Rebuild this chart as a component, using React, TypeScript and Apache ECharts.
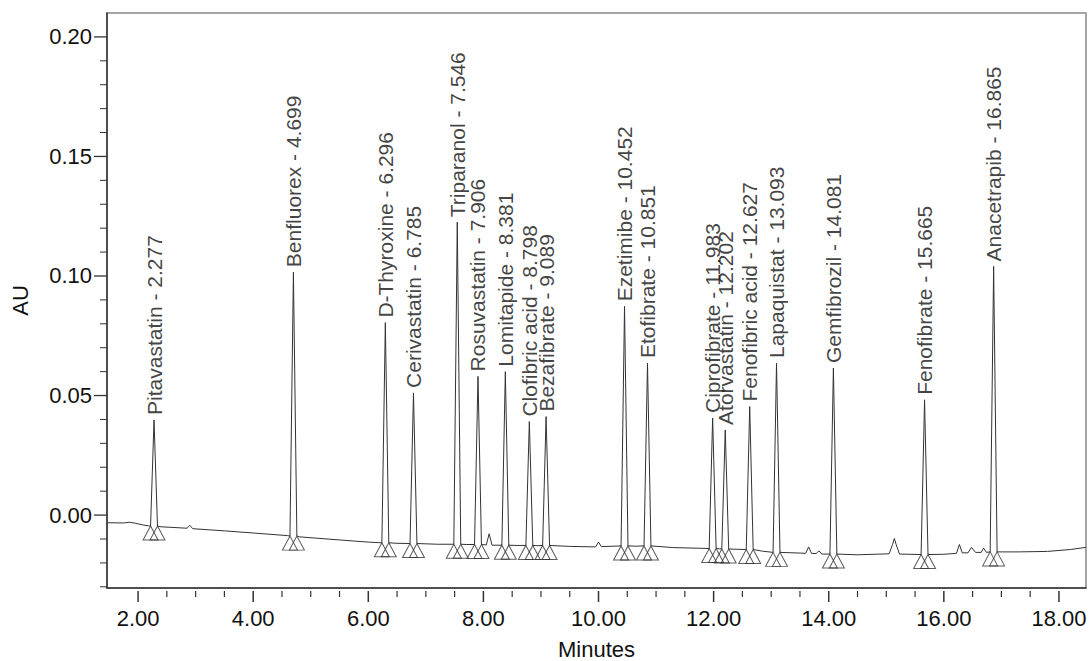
import React, { useEffect, useRef } from "react";
import * as echarts from "echarts";

// Peak table (retention time in minutes, apex and base absorbance in AU)
const peakNames = [
  "Pitavastatin", "Benfluorex", "D-Thyroxine", "Cerivastatin", "Triparanol",
  "Rosuvastatin", "Lomitapide", "Clofibric acid", "Bezafibrate", "Ezetimibe",
  "Etofibrate", "Ciprofibrate", "Atorvastatin", "Fenofibric acid", "Lapaquistat",
  "Gemfibrozil", "Fenofibrate", "Anacetrapib",
];
const peakTimes = [
  2.277, 4.699, 6.296, 6.785, 7.546, 7.906, 8.381, 8.798, 9.089, 10.452,
  10.851, 11.983, 12.202, 12.627, 13.093, 14.081, 15.665, 16.865,
];
const peakApex = [
  0.0398, 0.1016, 0.0805, 0.0511, 0.1225, 0.058, 0.060, 0.0391, 0.0412, 0.0873,
  0.0636, 0.0406, 0.0356, 0.0454, 0.0636, 0.0615, 0.0482, 0.104,
];
const peakBase = [
  -0.0046, -0.0088, -0.0116, -0.0119, -0.0122, -0.0123, -0.0126, -0.0127, -0.0127, -0.0129,
  -0.0129, -0.014, -0.0142, -0.0144, -0.0156, -0.0163, -0.0165, -0.0154,
];
const peakHalfWidth = 0.06;

// Baseline of the trace between peaks, including small unlabeled bumps
const baseline: [number, number][] = [
  [1.46, -0.0032], [1.75, -0.0033], [1.85, -0.0030], [1.95, -0.0034], [2.1, -0.0042],
  [2.18, -0.0045], [2.4, -0.0049], [2.85, -0.0055], [2.9, -0.0043], [2.95, -0.0057],
  [3.5, -0.0066], [4.0, -0.0075], [4.6, -0.0086], [4.8, -0.0091], [5.5, -0.0104],
  [6.0, -0.0113], [6.5, -0.0118], [7.2, -0.0122], [7.7, -0.0123], [8.05, -0.0125],
  [8.1, -0.0078], [8.15, -0.0126], [8.6, -0.0127], [8.95, -0.0128], [9.5, -0.0131],
  [9.95, -0.0133], [10.0, -0.0113], [10.05, -0.0132], [10.65, -0.0130], [11.3, -0.0136],
  [11.8, -0.0139], [12.1, -0.0141], [12.4, -0.0143], [12.85, -0.0151], [13.5, -0.0159],
  [13.6, -0.0160], [13.65, -0.0133], [13.7, -0.0160], [13.78, -0.0161], [13.83, -0.0150],
  [13.88, -0.0163], [14.5, -0.0166], [15.05, -0.0162], [15.11, -0.0122], [15.14, -0.0098],
  [15.17, -0.0122], [15.23, -0.0163], [16.0, -0.0164], [16.22, -0.0160], [16.27, -0.0123],
  [16.32, -0.0158], [16.42, -0.0158], [16.48, -0.0135], [16.55, -0.0156], [16.65, -0.0156],
  [16.69, -0.0138], [16.74, -0.0156], [17.3, -0.0154], [17.8, -0.0152], [18.2, -0.0144],
  [18.47, -0.0135],
];

// Axes
const X_MIN = 1.46;
const X_MAX = 18.47;
const Y_MIN = -0.0305;
const Y_MAX = 0.21;
const xMajorTicks = [2, 4, 6, 8, 10, 12, 14, 16, 18];
const xMinorTicks = [
  2.5, 3, 3.5, 4.5, 5, 5.5, 6.5, 7, 7.5, 8.5, 9, 9.5, 10.5, 11, 11.5,
  12.5, 13, 13.5, 14.5, 15, 15.5, 16.5, 17, 17.5,
];
const yMajorTicks = [0, 0.05, 0.1, 0.15, 0.2];
const yMinorTicks = [
  -0.03, -0.02, -0.01, 0.01, 0.02, 0.03, 0.04, 0.06, 0.07, 0.08, 0.09,
  0.11, 0.12, 0.13, 0.14, 0.16, 0.17, 0.18, 0.19,
];

const FONT = "'Liberation Sans', Arial, sans-serif";
const AXIS_COLOR = "#333";

export default function App() {
  const ref = useRef<HTMLDivElement>(null);

  useEffect(() => {
    if (!ref.current) return;
    const chart = echarts.init(ref.current, undefined, { renderer: "svg" });

    const trace: [number, number][] = [...baseline];
    peakTimes.forEach((t, i) => {
      trace.push([t - peakHalfWidth, peakBase[i]]);
      trace.push([t, peakApex[i]]);
      trace.push([t + peakHalfWidth, peakBase[i]]);
    });
    trace.sort((a, b) => a[0] - b[0]);

    const markers: [number, number][] = [];
    peakTimes.forEach((t, i) => {
      markers.push([t - peakHalfWidth, peakBase[i]]);
      markers.push([t + peakHalfWidth, peakBase[i]]);
    });

    const apexPoints = peakTimes.map((t, i) => ({
      value: [t, peakApex[i]],
      name: peakNames[i],
    }));

    // y-axis tick marks as [x, y, major flag]
    const yTickData = [
      ...yMajorTicks.map((v) => [X_MIN, v, 1]),
      ...yMinorTicks.map((v) => [X_MIN, v, 0]),
    ];

    chart.setOption({
      animation: false,
      grid: {
        left: 107,
        right: 5,
        top: 13,
        bottom: 73,
        show: true,
        borderColor: "#888",
        borderWidth: 1.5,
        containLabel: false,
        outerBoundsMode: "none",
      },
      xAxis: {
        type: "value",
        min: X_MIN,
        max: X_MAX,
        position: "bottom",
        axisLine: { show: true, onZero: false, lineStyle: { color: AXIS_COLOR, width: 1.5 } },
        axisTick: { show: false },
        splitLine: { show: false },
        axisLabel: {
          customValues: xMajorTicks,
          formatter: (v: number) => v.toFixed(2),
          fontSize: 22,
          color: "#111",
          fontFamily: FONT,
          margin: 19,
        },
        name: "Minutes",
        nameLocation: "middle",
        nameGap: 50,
        nameTextStyle: { fontSize: 22, color: "#111", fontFamily: FONT },
      },
      yAxis: {
        type: "value",
        min: Y_MIN,
        max: Y_MAX,
        position: "left",
        axisLine: { show: true, onZero: false, lineStyle: { color: AXIS_COLOR, width: 1.5 } },
        axisTick: { show: false },
        splitLine: { show: false },
        axisLabel: {
          customValues: yMajorTicks,
          formatter: (v: number) => v.toFixed(2),
          fontSize: 22,
          color: "#111",
          fontFamily: FONT,
          margin: 15,
        },
        name: "AU",
        nameLocation: "middle",
        nameGap: 76,
        nameTextStyle: { fontSize: 22, color: "#111", fontFamily: FONT },
      },
      series: [
        {
          type: "line",
          data: trace,
          showSymbol: false,
          symbol: "none",
          silent: true,
          lineStyle: { color: "#333", width: 1 },
          z: 2,
        },
        {
          type: "scatter",
          data: markers,
          symbol: "triangle",
          symbolSize: [15, 14],
          symbolOffset: [0, 7],
          silent: true,
          itemStyle: { color: "rgba(0,0,0,0)", borderColor: "#333", borderWidth: 1 },
          z: 3,
        },
        {
          type: "scatter",
          data: apexPoints,
          symbolSize: 0,
          silent: true,
          label: {
            show: true,
            position: "top",
            distance: 5,
            rotate: 90,
            align: "left",
            verticalAlign: "middle",
            fontSize: 21,
            color: "#111",
            fontFamily: FONT,
            formatter: (p: any) => `${p.name} - ${p.value[0].toFixed(3)}`,
          },
          z: 4,
        },
        {
          type: "custom",
          data: yTickData,
          silent: true,
          clip: false,
          renderItem: (_params: any, api: any) => {
            const p = api.coord([api.value(0), api.value(1)]);
            const major = api.value(2) === 1;
            return {
              type: "line",
              shape: { x1: p[0], y1: p[1], x2: p[0] - (major ? 13 : 7), y2: p[1] },
              style: { stroke: AXIS_COLOR, lineWidth: major ? 1.3 : 1 },
            };
          },
          z: 5,
        },
      ],
    });

    // x-axis tick marks, placed with the chart's own x scale, just below the axis line
    const tickEl = (v: number, len: number, w: number) => {
      const p = chart.convertToPixel({ gridIndex: 0 }, [v, Y_MIN]) as number[];
      return {
        type: "rect",
        silent: true,
        z: 100,
        shape: { x: p[0] - w / 2, y: p[1] + 3, width: w, height: len },
        style: { fill: AXIS_COLOR },
      };
    };
    chart.setOption({
      graphic: [
        ...xMajorTicks.map((v) => tickEl(v, 11, 1.5)),
        ...xMinorTicks.map((v) => tickEl(v, 6, 1.2)),
      ],
    });

    return () => chart.dispose();
  }, []);

  return (
    <div
      ref={ref}
      style={{ position: "absolute", left: 0, top: 0, width: 1091, height: 661, background: "#fff" }}
    />
  );
}
